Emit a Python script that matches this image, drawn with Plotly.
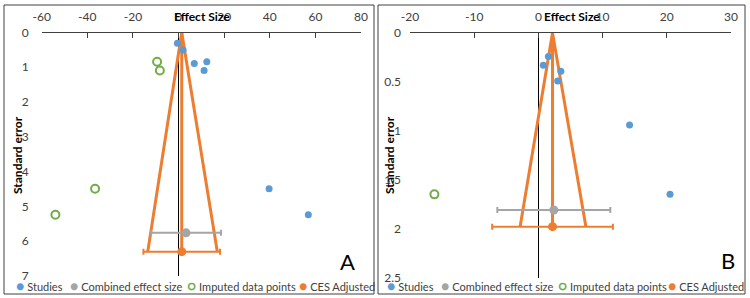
import plotly.graph_objects as go

# ---------------- data ----------------
# Panel A
a_studies_x = [-0.5, 2.0, 6.9, 12.4, 11.2, 39.7, 56.9]
a_studies_se = [0.31, 0.50, 0.89, 0.84, 1.09, 4.49, 5.24]
a_imputed_x = [-9.4, -8.2, -36.6, -54.0]
a_imputed_se = [0.84, 1.09, 4.49, 5.24]
a_combined_x = [3.3]
a_combined_se = [5.76]
a_combined_ci = [15.3]
a_adj_x = [1.4]
a_adj_se = [6.30]
a_adj_ci = [16.8]
a_funnel_x = [-13.5, 1.4, 17.0]
a_funnel_se = [6.30, 0.0, 6.30]
a_center_x = [1.4, 1.4]
a_center_se = [0.0, 6.30]
a_xticks = [-60, -40, -20, 0, 20, 40, 60, 80]
a_yticks = [0, 1, 2, 3, 4, 5, 6, 7]

# Panel B
b_studies_x = [1.55, 0.77, 3.5, 3.0, 14.2, 20.5]
b_studies_se = [0.24, 0.33, 0.39, 0.49, 0.94, 1.65]
b_imputed_x = [-16.2]
b_imputed_se = [1.65]
b_combined_x = [2.4]
b_combined_se = [1.81]
b_combined_ci = [8.8]
b_adj_x = [2.2]
b_adj_se = [1.98]
b_adj_ci = [9.4]
b_funnel_x = [-2.85, 2.2, 7.4]
b_funnel_se = [1.98, 0.0, 1.98]
b_center_x = [2.2, 2.2]
b_center_se = [0.0, 1.98]
b_xticks = [-20, -10, 0, 10, 20, 30]
b_yticks = [0, 0.5, 1, 1.5, 2, 2.5]

legend_names = ["Studies", "Combined effect size", "Imputed data points", "CES Adjusted"]

BLUE = "#5B9BD5"
GRAY = "#A5A5A5"
GREEN = "#70AD47"
ORANGE = "#ED7D31"
TXT = "#404040"
FONT = "Lato"

W, H = 750, 298


def px_x(p):
    return p / W


def px_y(p):
    return 1 - p / H


fig = go.Figure()


def add_panel(xa, ya, fx, fse, cx, cse, sx, sse, ix, ise, mx, mse, mci, ax, ase, aci):
    common = dict(xaxis=xa, yaxis=ya, showlegend=False, hoverinfo="skip")
    fig.add_trace(go.Scatter(x=fx, y=fse, mode="lines",
                             line=dict(color=ORANGE, width=3), **common))
    fig.add_trace(go.Scatter(x=cx, y=cse, mode="lines",
                             line=dict(color=ORANGE, width=3), **common))
    fig.add_trace(go.Scatter(x=mx, y=mse, mode="markers",
                             marker=dict(color=GRAY, size=9),
                             error_x=dict(type="data", array=mci, color=GRAY,
                                          thickness=2, width=3), **common))
    fig.add_trace(go.Scatter(x=sx, y=sse, mode="markers",
                             marker=dict(color=BLUE, size=7), **common))
    fig.add_trace(go.Scatter(x=ix, y=ise, mode="markers",
                             marker=dict(color="rgba(0,0,0,0)", size=8,
                                         line=dict(color=GREEN, width=2)), **common))
    fig.add_trace(go.Scatter(x=ax, y=ase, mode="markers",
                             marker=dict(color=ORANGE, size=9),
                             error_x=dict(type="data", array=aci, color=ORANGE,
                                          thickness=2, width=3), **common))


add_panel("x", "y", a_funnel_x, a_funnel_se, a_center_x, a_center_se,
          a_studies_x, a_studies_se, a_imputed_x, a_imputed_se,
          a_combined_x, a_combined_se, a_combined_ci, a_adj_x, a_adj_se, a_adj_ci)
add_panel("x2", "y2", b_funnel_x, b_funnel_se, b_center_x, b_center_se,
          b_studies_x, b_studies_se, b_imputed_x, b_imputed_se,
          b_combined_x, b_combined_se, b_combined_ci, b_adj_x, b_adj_se, b_adj_ci)


def xaxis_cfg(dom, rng, ticks, anchor):
    return dict(domain=dom, range=rng, side="top", anchor=anchor,
                tickvals=ticks, ticktext=[str(t) for t in ticks],
                showline=True, linecolor="#404040", linewidth=1,
                ticks="inside", ticklen=5, tickcolor="#404040",
                showgrid=False, zeroline=True, zerolinecolor="black",
                zerolinewidth=1, ticklabelstandoff=6, automargin=False,
                tickfont=dict(family=FONT, size=12, color=TXT), fixedrange=True)


def yaxis_cfg(dom, rng, ticks, anchor, standoff):
    return dict(domain=dom, range=rng, anchor=anchor,
                tickvals=ticks, showline=False, ticks="", showgrid=False,
                zeroline=False, ticklabelstandoff=standoff, automargin=False,
                tickfont=dict(family=FONT, size=12, color=TXT), fixedrange=True)


fig.update_layout(
    width=W, height=H,
    margin=dict(l=0, r=0, t=0, b=0, autoexpand=False),
    paper_bgcolor="white", plot_bgcolor="white",
    showlegend=False,
    xaxis=xaxis_cfg([px_x(41.7), px_x(361)], [-60, 80], a_xticks, "y"),
    yaxis=yaxis_cfg([px_y(276), px_y(32.5)], [7, 0], a_yticks, "x", 12),
    xaxis2=xaxis_cfg([px_x(410), px_x(731)], [-20, 30], b_xticks, "y2"),
    yaxis2=yaxis_cfg([px_y(277.5), px_y(33)], [2.5, 0], b_yticks, "x2", 8),
)

# panel frames
for x0, x1 in [(4, 374), (378, 745)]:
    fig.add_shape(type="rect", xref="paper", yref="paper",
                  x0=px_x(x0), x1=px_x(x1), y0=px_y(294), y1=px_y(5),
                  line=dict(color="#404040", width=1))

annots = []
# axis titles
for cx in [201.7, 572]:
    annots.append(dict(x=px_x(cx), y=px_y(17), text="<b>Effect Size</b>",
                       xanchor="center",
                       font=dict(family=FONT, size=12, color="black")))
for cx in [17, 389]:
    annots.append(dict(x=px_x(cx), y=px_y(155), text="<b>Standard error</b>",
                       xanchor="center", textangle=-90,
                       font=dict(family=FONT, size=12, color="black")))
# panel letters
annots.append(dict(x=px_x(347), y=px_y(261), text="A", xanchor="center",
                   font=dict(family=FONT, size=22, color="black")))
annots.append(dict(x=px_x(727.5), y=px_y(260), text="B", xanchor="center",
                   font=dict(family=FONT, size=22, color="black")))

# legends (one row per panel)
key_glyphs = [("●", BLUE), ("●", GRAY), ("<b>○</b>", GREEN), ("●", ORANGE)]
legend_pos = [[13.5, 67.5, 184.5, 296.5], [385, 438.5, 555.5, 665.5]]
for row in legend_pos:
    for (g, c), name, lx in zip(key_glyphs, legend_names, row):
        annots.append(dict(
            x=px_x(lx), y=px_y(285), xanchor="left",
            text=f"<span style='color:{c};font-size:14px'>{g}</span> {name}",
            font=dict(family=FONT, size=11, color=TXT)))

for a in annots:
    a.update(xref="paper", yref="paper", showarrow=False, yanchor="middle")
fig.update_layout(annotations=annots)

fig.write_html("out.html", config={"displayModeBar": False},
               post_script="document.body.style.margin='0px';document.body.style.overflow='hidden';")
